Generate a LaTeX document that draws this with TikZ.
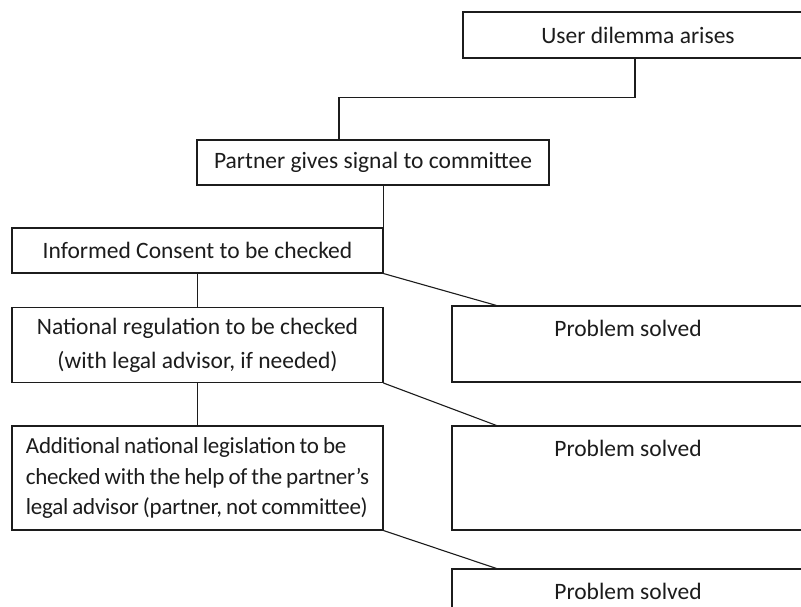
\documentclass[tikz,border=0pt]{standalone}
\usepackage{fontspec}
\setmainfont{Carlito}
\newfontfamily\tightfont[LetterSpace=-1]{Carlito}
\usepackage{tikz}
\usetikzlibrary{calc}
\definecolor{ink}{HTML}{1C1C1C}
\definecolor{paper}{HTML}{FFFFFF}
\newcommand{\tightset}{\tightfont\fontsize{23}{30.5}\selectfont\spaceskip=4pt\relax}
\tikzset{
  box/.style={draw=ink, line width=1.1pt, text=ink, fill=paper, inner sep=0pt, font=\fontsize{23.5}{34}\selectfont},
  link/.style={draw=ink, line width=1.1pt, line cap=round},
}
\newcommand{\topbox}[3]{\parbox[c][#2pt][t]{#1pt}{\centering\rule{0pt}{30pt}#3}}

\begin{document}
\begin{tikzpicture}[x=1pt,y=-1pt]
  \clip (0,0) rectangle (801,606);
  \fill[paper] (0,0) rectangle (801,606);
  % main chain
  \node[box, minimum width=350pt, minimum height=46pt] (user) at (638,35) {User dilemma arises};
  \node[box, minimum width=352pt, minimum height=45pt] (partner) at (373,162.5) {Partner gives signal to committee};
  \node[box, minimum width=371pt, minimum height=45pt] (consent) at (197.5,250.5) {Informed Consent to be checked};
  \node[box, minimum width=371pt, minimum height=75pt, align=center] (regul) at (197.5,345)
    {National regulation to be checked\\(with legal advisor, if needed)};
  \node[box, minimum width=371pt, minimum height=104pt, align=left,
        font=\tightset] (addit) at (197.5,478)
    {Additional national legislation to be\\checked with the help of the partner’s\\legal advisor (partner, not committee)};
  % outcomes
  \node[box] (solvedA) at (628,344) {\topbox{352}{76}{Problem solved}};
  \node[box] (solvedB) at (628,478) {\topbox{352}{104}{Problem solved}};
  \node[box] (solvedC) at (628,621) {\topbox{352}{104}{Problem solved}};
  % connectors
  \draw[link] ([xshift=-3pt]user.south) -- ++(0,39) -| ([xshift=-34pt]partner.north);
  \draw[link] (partner.south -| consent.north east) -- (consent.north east);
  \draw[link] (consent.south) -- (regul.north);
  \draw[link] (regul.south) -- (addit.north);
  \draw[link] (consent.south east) -- ([xshift=45pt]solvedA.north west);
  \draw[link] (regul.south east) -- ([xshift=45pt]solvedB.north west);
  \draw[link] (addit.south east) -- ([xshift=45pt]solvedC.north west);
\end{tikzpicture}
\end{document}
